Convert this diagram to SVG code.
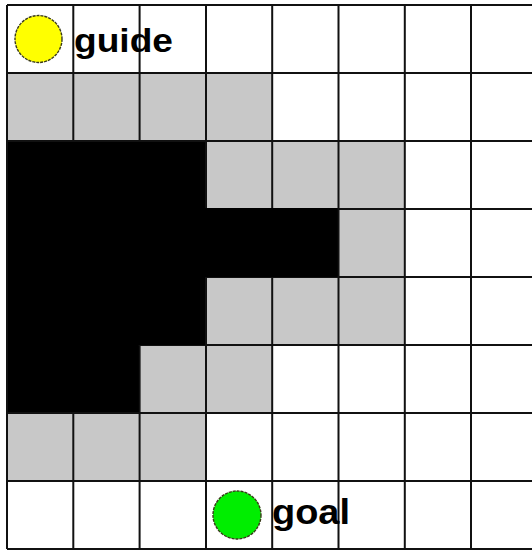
<svg xmlns="http://www.w3.org/2000/svg" width="532" height="550" viewBox="0 0 532 550">
<style>
.g{fill:#c8c8c8}
.b{fill:#000}
.ln{stroke:#111;stroke-width:2;fill:none}
.lbl{font-family:"Liberation Sans",Arial,sans-serif;font-weight:bold;fill:#000}
.tok{stroke:#3a3a1a;stroke-width:1.4;stroke-dasharray:3 1}
</style>
<rect width="532" height="550" fill="#fff"/>
<g id="cells">
<rect class="g" x="7" y="73" width="265.2" height="68"/>
<rect class="b" x="7" y="141" width="199" height="68"/>
<rect class="g" x="206" y="141" width="198.8" height="68"/>
<rect class="b" x="7" y="209" width="331.5" height="68"/>
<rect class="g" x="338.5" y="209" width="66.3" height="68"/>
<rect class="b" x="7" y="277" width="199" height="68"/>
<rect class="g" x="206" y="277" width="198.8" height="68"/>
<rect class="b" x="7" y="345" width="132.6" height="68"/>
<rect class="g" x="139.6" y="345" width="132.6" height="68"/>
<rect class="g" x="7" y="413" width="199" height="68"/>
</g>
<g id="grid">
<path class="ln" d="M7 5V549M73.3 5V549M139.6 5V549M206 5V549M272.2 5V549M338.5 5V549M404.8 5V549M471 5V549"/>
<path class="ln" d="M7 5H532M7 73H532M7 141H532M7 209H532M7 277H532M7 345H532M7 413H532M7 481H532M7 549H532"/>
</g>
<g id="black-fill">
<rect class="b" x="8" y="142" width="197" height="67"/>
<rect class="b" x="8" y="208" width="329.5" height="69"/>
<rect class="b" x="8" y="276" width="197" height="69"/>
<rect class="b" x="8" y="344" width="130.6" height="68"/>
</g>
<g id="guide">
<circle class="tok" cx="38.5" cy="39" r="23.5" fill="#ffff00"/>
<text class="lbl" x="74" y="52" font-size="33" textLength="99" lengthAdjust="spacingAndGlyphs">guide</text>
</g>
<g id="goal">
<circle class="tok" cx="237" cy="515" r="24" fill="#00ee00"/>
<text class="lbl" x="272" y="524" font-size="35" textLength="78" lengthAdjust="spacingAndGlyphs">goal</text>
</g>
</svg>
